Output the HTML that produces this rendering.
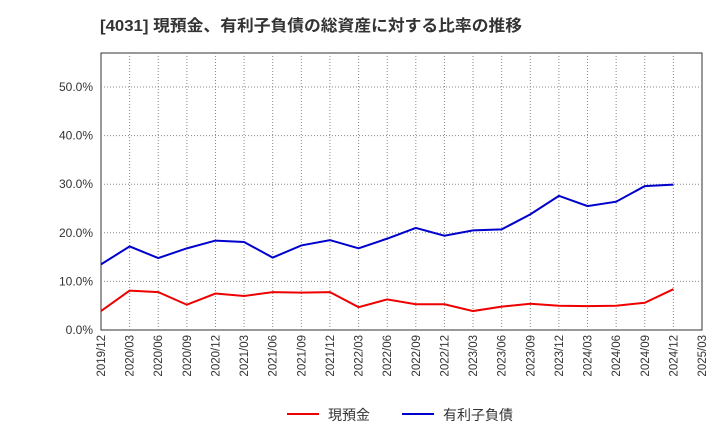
<!DOCTYPE html>
<html><head><meta charset="utf-8"><style>
body{margin:0;background:#fff;font-family:"Liberation Sans","Noto Sans CJK JP",sans-serif;}
svg text{font-family:"Liberation Sans","Noto Sans CJK JP",sans-serif;}
</style></head><body>
<svg id="c" width="720" height="440">
<text x="100" y="31" font-size="16" font-weight="bold" fill="#333" textLength="422" lengthAdjust="spacingAndGlyphs">[4031]  現預金、有利子負債の総資産に対する比率の推移</text>
<rect x="101" y="53" width="601" height="277" fill="none" stroke="#333"/>
<g id="grid"></g><g id="yt"></g><g id="xt"></g><g id="series"></g>
<g>
<line x1="287" y1="414" x2="319" y2="414" stroke="#e00" stroke-width="2"/>
<text x="328" y="420" font-size="14" fill="#333">現預金</text>
<line x1="402" y1="414" x2="434" y2="414" stroke="#00c" stroke-width="2"/>
<text x="443" y="420" font-size="14" fill="#333">有利子負債</text>
</g>
</svg>
<script>
const categories=["2019/12","2020/03","2020/06","2020/09","2020/12","2021/03","2021/06","2021/09","2021/12","2022/03","2022/06","2022/09","2022/12","2023/03","2023/06","2023/09","2023/12","2024/03","2024/06","2024/09","2024/12","2025/03"];
const cash=[3.9,8.1,7.8,5.2,7.5,7.0,7.8,7.7,7.8,4.7,6.3,5.3,5.3,3.9,4.8,5.4,5.0,4.9,5.0,5.6,8.4];
const debt=[13.5,17.2,14.8,16.8,18.4,18.1,14.9,17.4,18.5,16.8,18.8,21.0,19.4,20.5,20.7,23.8,27.6,25.5,26.4,29.6,29.9];
const yTicks=[0,10,20,30,40,50];
const NS="http://www.w3.org/2000/svg";
const x=i=>101+i*601/(categories.length-1);
const y=v=>330-v*4.86;
function mk(t,a,p){const e=document.createElementNS(NS,t);for(const k in a)e.setAttribute(k,a[k]);document.getElementById(p).appendChild(e);return e;}
categories.forEach((c,i)=>{
 if(i>0&&i<categories.length-1){const g=mk('line',{x1:x(i),x2:x(i),y1:53,y2:330,stroke:'#888','stroke-dasharray':'1,2'},'grid');
 
 }
 const t=mk('text',{transform:`translate(${x(i)+4},335) rotate(-90)`,'text-anchor':'end','font-size':'11.5',fill:'#333'},'xt');
 t.textContent=c;
 
 
});
yTicks.forEach(v=>{
 if(v>0){const g=mk('line',{x1:101,x2:702,y1:y(v),y2:y(v),stroke:'#888','stroke-dasharray':'1,2'},'grid');
 
 }
 const t=mk('text',{x:93,y:y(v)+4,'text-anchor':'end','font-size':'12',fill:'#333'},'yt');
 t.textContent=v.toFixed(1)+'%';
 
 
});
[[cash,'#e00','cash-line'],[debt,'#00c','debt-line']].forEach(([d,col,n])=>{
 const p=mk('polyline',{points:d.map((v,i)=>x(i)+','+y(v)).join(' '),fill:'none',stroke:col,'stroke-width':2},'series');
 
 
});
</script>
</body></html>
